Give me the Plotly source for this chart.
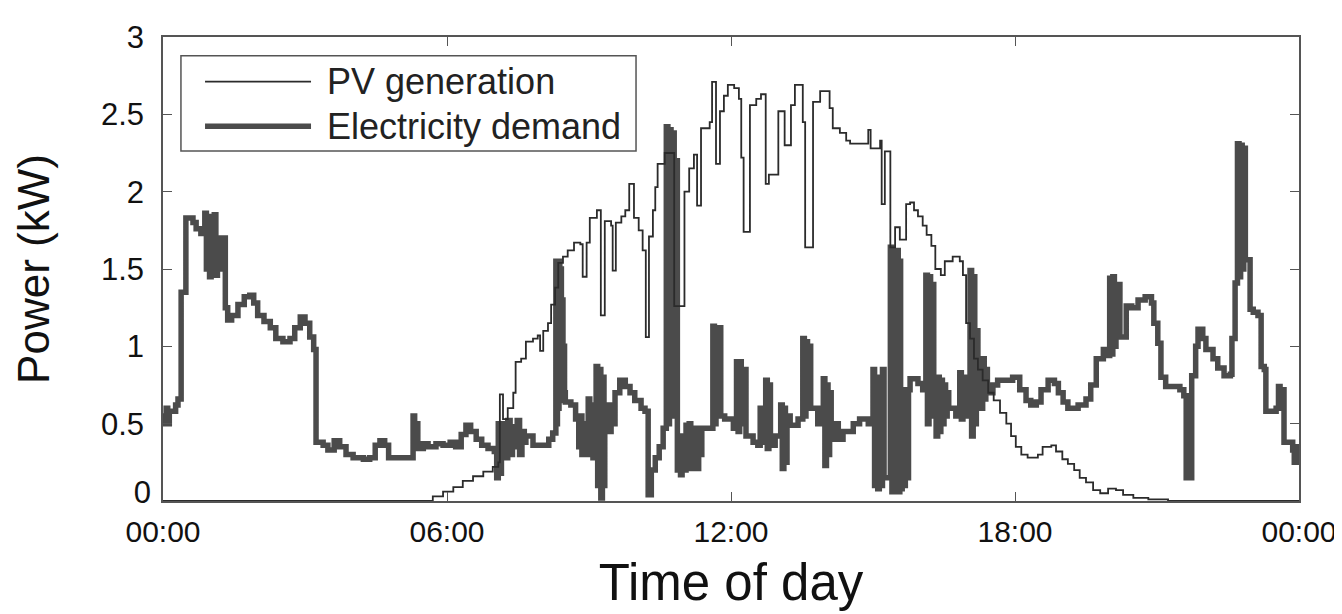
import plotly.graph_objects as go

# ---- data (time in minutes after midnight, power in kW) ----
pv_t = [0, 330, 342, 355, 368, 380, 393, 406, 418, 425, 427, 431, 437, 444, 447, 454, 460, 469, 475, 478,
        482, 488, 492, 497, 501, 507, 513, 521, 529, 532, 537, 541, 550, 555, 560, 568, 570, 574, 581, 586,
        591, 597, 603, 608, 612, 616, 621, 624, 627, 636, 648, 661, 667, 673, 677, 682, 693, 696, 701, 706,
        711, 716, 724, 730, 733, 736, 744, 752, 758, 764, 768, 780, 788, 796, 801, 811, 814, 824, 833, 845,
        849, 858, 866, 871, 894, 897, 909, 911, 915, 922, 928, 934, 942, 947, 952, 957, 963, 968, 974, 979,
        986, 991, 1001, 1010, 1014, 1018, 1023, 1028, 1033, 1039, 1046, 1053, 1061, 1069, 1075, 1081, 1088,
        1096, 1109, 1115, 1126, 1132, 1140, 1147, 1155, 1162, 1170, 1179, 1188, 1198, 1208, 1217, 1230,
        1249, 1274, 1440]
pv_v = [0, 0, 0.03, 0.06, 0.09, 0.13, 0.16, 0.19, 0.22, 0.25, 0.69, 0.53, 0.6, 0.7, 0.9, 0.92, 1.03, 1.05, 1.07, 0.97,
        1.1, 1.15, 1.27, 1.38, 1.54, 1.58, 1.62, 1.67, 1.66, 1.45, 1.67, 1.83, 1.88, 1.2, 1.81, 1.78, 1.49, 1.8, 1.84, 1.88,
        2.05, 1.83, 1.75, 1.62, 1.06, 1.71, 1.88, 2.03, 2.18, 2.25, 1.26, 2.0, 2.15, 2.24, 1.91, 2.41, 2.45, 2.71, 2.18, 2.52,
        2.62, 2.69, 2.67, 2.6, 2.22, 1.74, 2.56, 2.6, 2.63, 2.05, 2.11, 2.52, 2.3, 2.56, 2.69, 2.45, 1.64, 2.58, 2.65, 2.54,
        2.41, 2.38, 2.33, 2.31, 2.4, 2.28, 2.33, 1.92, 2.26, 1.64, 1.77, 1.69, 1.92, 1.93, 1.88, 1.84, 1.78, 1.72, 1.65, 1.5,
        1.46, 1.55, 1.58, 1.55, 1.46, 1.15, 1.05, 0.92, 0.85, 0.78, 0.7, 0.65, 0.57, 0.5, 0.42, 0.35, 0.3,
        0.28, 0.3, 0.35, 0.36, 0.32, 0.27, 0.24, 0.2, 0.15, 0.12, 0.07, 0.05, 0.08, 0.07, 0.04, 0.02,
        0.01, 0, 0]

dem_t = [0, 2, 4, 6, 8, 16, 19, 23, 29, 38, 42, 48,
         53, 55, 57, 59, 61, 63, 65, 67, 69, 72, 74, 79, 82, 87, 95, 103, 110, 115, 120, 128, 136, 143, 152,
         161, 167, 174, 180, 186, 191, 194, 203, 209, 217, 224, 232, 241, 254, 262, 269, 275, 281, 286,
         317, 319, 321, 323, 330, 336, 346, 355, 364, 371, 378, 384, 390, 397, 404, 412, 420,
         423, 425, 427, 429, 431, 433, 435, 437, 440, 443, 446, 449, 452, 455, 458, 460, 469, 482, 489, 494,
         498, 499, 500, 501, 502, 503, 504, 505, 506, 507, 508, 509, 510, 517, 523,
         527, 529, 531, 533, 536, 539, 541, 543, 545, 547, 549, 551, 553, 555, 557, 559, 560,
         564, 566, 568, 570, 573, 579, 586, 592, 598, 606, 611, 615, 619, 624, 629, 634,
         638, 640, 642, 644, 646, 648, 650, 652, 654, 656, 658, 660,
         663, 665, 667, 669, 671, 673, 675, 677, 679, 681, 683, 697, 699, 701, 703, 705, 707, 712,
         723, 727, 729, 731, 733, 735, 739, 748, 754, 757, 759, 761, 763, 764, 766, 768, 770, 776,
         783, 785, 787, 789, 791, 795, 805, 811, 813, 815, 817, 819, 821, 826, 830,
         837, 839, 841, 843, 845, 847, 849, 856, 862, 875, 883, 894,
         900, 902, 904, 906, 908, 910, 912, 914, 922, 924, 926, 928, 930, 932, 934,
         935, 937, 939, 941, 943, 945, 947, 957, 963, 967, 969, 971, 973, 975, 977,
         980, 982, 984, 986, 988, 990, 992, 994, 996, 1005, 1010, 1012, 1014, 1016,
         1023, 1025, 1027, 1029, 1031, 1033, 1039, 1041, 1043, 1045, 1052, 1058, 1071, 1077,
         1086, 1094, 1100, 1107, 1113, 1122, 1130, 1135, 1141, 1147, 1160, 1170, 1176, 1183,
         1192, 1198, 1200, 1202, 1204, 1206, 1208, 1213, 1221, 1228, 1236, 1245, 1253, 1256,
         1261, 1265, 1271, 1280, 1289, 1294, 1297, 1299, 1304, 1309, 1312, 1318, 1322, 1331,
         1337, 1345, 1353, 1355, 1359, 1362, 1364, 1366, 1368, 1370, 1372, 1373, 1378, 1382,
         1388, 1392, 1396, 1398, 1411, 1414, 1416, 1418, 1421, 1432, 1434, 1436, 1438, 1440]
dem_v = [0.55, 0.5, 0.6, 0.5, 0.58, 0.62, 0.66, 1.35, 1.83, 1.8, 1.76, 1.73,
         1.86, 1.5, 1.84, 1.45, 1.8, 1.5, 1.85, 1.46, 1.55, 1.5, 1.7, 1.25, 1.17, 1.2, 1.27, 1.32, 1.33, 1.28, 1.2, 1.16, 1.12, 1.05, 1.03,
         1.05, 1.12, 1.19, 1.15, 1.06, 0.98, 0.38, 0.36, 0.33, 0.39, 0.35, 0.3, 0.28, 0.27, 0.28, 0.36, 0.39, 0.36, 0.28,
         0.55, 0.35, 0.5, 0.34, 0.37, 0.35, 0.37, 0.36, 0.38, 0.35, 0.43, 0.49, 0.45, 0.4, 0.36, 0.34, 0.32,
         0.15, 0.5, 0.18, 0.48, 0.3, 0.5, 0.28, 0.52, 0.3, 0.48, 0.35, 0.52, 0.3, 0.45, 0.38, 0.42, 0.36, 0.36, 0.4, 0.44,
         1.55, 0.5, 1.5, 0.6, 1.55, 0.7, 1.5, 0.65, 1.3, 0.7, 1.0, 0.7, 0.64, 0.62, 0.53,
         0.35, 0.55, 0.3, 0.5, 0.3, 0.66, 0.3, 0.62, 0.28, 0.6, 0.87, 0.1, 0.85, 0.02, 0.8, 0.1, 0.5,
         0.62, 0.45, 0.6, 0.5, 0.7, 0.78, 0.74, 0.7, 0.65, 0.6, 0.58, 0.04, 0.2, 0.28, 0.35, 0.47,
         2.42, 0.5, 2.4, 0.55, 2.38, 0.6, 2.2, 0.2, 0.42, 0.17, 0.4, 0.2,
         0.49, 0.25, 0.5, 0.21, 0.45, 0.25, 0.47, 0.21, 0.46, 0.3, 0.47, 1.13, 0.5, 1.1, 0.55, 1.12, 0.55, 0.53,
         0.47, 0.9, 0.45, 0.9, 0.5, 0.85, 0.42, 0.38, 0.36, 0.6, 0.38, 0.58, 0.4, 0.78, 0.34, 0.75, 0.36, 0.42,
         0.62, 0.21, 0.6, 0.25, 0.55, 0.49, 0.53, 1.05, 0.55, 1.03, 0.6, 1.0, 0.6, 0.6, 0.5,
         0.79, 0.23, 0.75, 0.3, 0.7, 0.4, 0.5, 0.4, 0.45, 0.5, 0.53, 0.5,
         0.85, 0.1, 0.8, 0.08, 0.75, 0.1, 0.85, 0.15, 1.64, 0.06, 1.6, 0.1, 1.62, 0.06, 1.55,
         0.08, 0.72, 0.1, 0.7, 0.15, 0.72, 0.79, 0.76, 0.72, 1.46, 0.5, 1.45, 0.55, 1.4, 0.6,
         0.42, 0.8, 0.45, 0.78, 0.5, 0.75, 0.55, 0.7, 0.6, 0.55, 0.83, 0.53, 0.8, 0.55,
         1.49, 0.42, 1.45, 0.5, 1.1, 0.6, 0.92, 0.66, 0.85, 0.7, 0.75, 0.78, 0.78, 0.8,
         0.72, 0.65, 0.62, 0.64, 0.72, 0.78, 0.76, 0.7, 0.64, 0.6, 0.62, 0.66, 0.75, 0.92,
         0.98, 0.94, 1.44, 0.95, 1.45, 1.0, 1.4, 1.06, 1.26, 1.25, 1.3, 1.32, 1.28, 1.15,
         1.02, 0.8, 0.74, 0.74, 0.72, 0.68, 0.15, 0.15, 0.81, 1.0, 1.11, 1.05, 0.98, 0.92,
         0.86, 0.81, 0.82, 1.05, 1.41, 2.31, 1.45, 2.3, 1.5, 2.28, 1.56, 1.56, 1.24, 1.22,
         1.2, 0.87, 0.85, 0.58, 0.6, 0.74, 0.6, 0.72, 0.38, 0.33, 0.25, 0.35, 0.25, 0.3]

x_tick_vals = [0, 360, 720, 1080, 1440]
x_tick_text = ["00:00", "06:00", "12:00", "18:00", "00:00"]
y_tick_vals = [0.5, 1, 1.5, 2, 2.5, 3]
y_tick_text = ["0.5", "1", "1.5", "2", "2.5", "3"]
y_zero_val = [0]
y_zero_text = ["0"]
series_names = ["PV generation", "Electricity demand"]

FONT = "Liberation Sans, Arial, sans-serif"
PV_COLOR = "#2b2b2b"
DEM_COLOR = "#4b4b4b"
Y_RANGE = [0, 3]

fig = go.Figure()
fig.add_trace(go.Scatter(x=dem_t, y=dem_v, mode="lines", line=dict(shape="hv", width=5.5, color=DEM_COLOR),
                         name=series_names[1], showlegend=False))
# PV on the overlaid axis (identical range) so it is drawn on top and that axis carries the "0" label
fig.add_trace(go.Scatter(x=pv_t, y=pv_v, mode="lines", line=dict(shape="hv", width=1.8, color=PV_COLOR),
                         name=series_names[0], showlegend=False, yaxis="y2"))

# custom legend (box, line samples, labels)
box = dict(x0=0.0158, x1=0.4164, y0=0.7543, y1=0.9594)
fig.add_shape(type="rect", xref="paper", yref="paper", **box,
              line=dict(color="#555555", width=1.5), fillcolor="white", layer="above")
rows = [0.9038, 0.8077]
widths = [1.8, 5.5]
colors = [PV_COLOR, DEM_COLOR]
for name, yr, w, c in zip(series_names, rows, widths, colors):
    fig.add_shape(type="line", xref="paper", yref="paper", x0=0.037, x1=0.1303, y0=yr, y1=yr,
                  line=dict(color=c, width=w), layer="above")
    fig.add_annotation(xref="paper", yref="paper", x=0.1426, y=yr, text=name, showarrow=False,
                       xanchor="left", yanchor="middle", font=dict(family=FONT, size=36, color="#222222"))

axis_common = dict(showline=True, linecolor="#555555", linewidth=1.5, mirror="ticks",
                   ticks="inside", ticklen=9, tickwidth=1.3, tickcolor="#555555",
                   showgrid=False, zeroline=False)
YFONT = dict(family=FONT, size=31, color="#111111")

fig.update_layout(
    width=1342, height=614,
    margin=dict(l=155, r=51, t=25, b=121),
    paper_bgcolor="white", plot_bgcolor="white",
    xaxis=dict(range=[0, 1440], tickvals=x_tick_vals, ticktext=x_tick_text,
               tickfont=dict(family=FONT, size=30, color="#111111"),
               title=dict(text="Time of day", font=dict(family=FONT, size=51, color="#111111"), standoff=18),
               ticklabelstandoff=3, **axis_common),
    yaxis=dict(range=Y_RANGE, tickvals=y_tick_vals, ticktext=y_tick_text, tickfont=YFONT,
               title=dict(text="Power (kW)", font=dict(family=FONT, size=44, color="#111111"), standoff=38),
               ticklabelstandoff=11, **axis_common),
    # overlaid axis with the same range carrying only the "0" label, nudged up to clear the time labels
    yaxis2=dict(range=Y_RANGE, overlaying="y", side="left", anchor="x",
                tickvals=y_zero_val, ticktext=y_zero_text, tickfont=YFONT,
                showline=False, ticks="", showgrid=False, zeroline=False,
                ticklabelstandoff=11, ticklabelshift=-9),
)

fig.write_html("out.html")
